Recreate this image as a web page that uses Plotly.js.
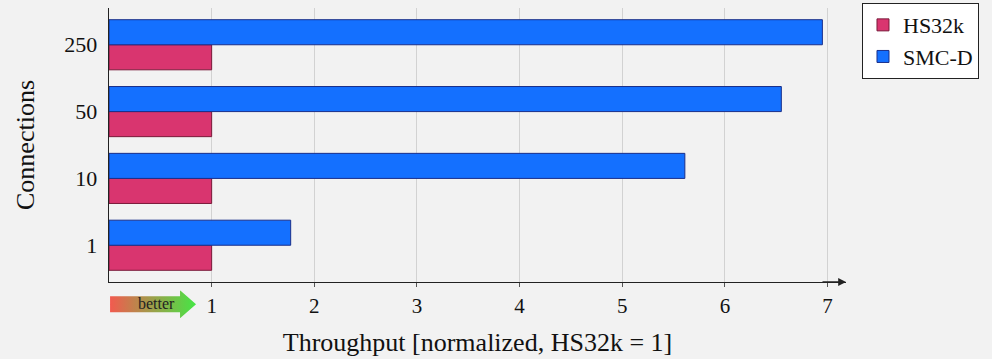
<!DOCTYPE html>
<html><head><meta charset="utf-8">
<script src="https://cdn.plot.ly/plotly-3.0.1.min.js"></script>
<style>html,body{margin:0;padding:0;background:#f2f2f2;}</style>
</head><body>
<div id="chart" style="width:992px;height:359px;"></div>
<script>
const categories = ["1", "10", "50", "250"];
const hs32k = [1.0, 1.0, 1.0, 1.0];
const smcd = [1.77, 5.61, 6.55, 6.95];
const xTicks = [1, 2, 3, 4, 5, 6, 7];

const font = "Liberation Serif, DejaVu Serif, serif";
const svg = '<svg xmlns="http://www.w3.org/2000/svg" width="86" height="28" viewBox="0 0 86 28">' +
  '<defs><linearGradient id="g" x1="0" x2="1" y1="0" y2="0"><stop offset="0" stop-color="#f25a4f"/><stop offset="1" stop-color="#45e645"/></linearGradient></defs>' +
  '<polygon points="0,6 70,6 70,0 86,14 70,28 70,22 0,22" fill="url(#g)"/></svg>';
const img = 'data:image/svg+xml;base64,' + btoa(svg);

const data = [
  {type: 'bar', orientation: 'h', name: 'HS32k', y: categories, x: hs32k,
   marker: {color: '#d9356f', line: {color: '#7a1a3a', width: 1}}},
  {type: 'bar', orientation: 'h', name: 'SMC-D', y: categories, x: smcd,
   marker: {color: '#1470ff', line: {color: '#1a2f8a', width: 1}}}
];

const layout = {
  width: 992, height: 359,
  margin: {l: 109, r: 146, t: 8, b: 77, autoexpand: false},
  paper_bgcolor: '#f2f2f2', plot_bgcolor: '#f2f2f2',
  barmode: 'group', bargap: 0.25, bargroupgap: 0,
  font: {family: font, size: 21, color: '#111'},
  xaxis: {range: [0, 7.18], tickvals: xTicks, ticktext: xTicks.map(String),
    showgrid: true, gridcolor: '#d2d2d2', gridwidth: 1, zeroline: false,
    showline: true, linecolor: '#222', linewidth: 1.3,
    ticks: 'outside', ticklen: 4, tickcolor: '#555', automargin: false,
    tickfont: {family: font, size: 21},
    title: {text: 'Throughput [normalized, HS32k = 1]', font: {family: font, size: 26}, standoff: 16}},
  yaxis: {type: 'category', range: [-0.55, 3.55], showgrid: false, zeroline: false,
    showline: true, linecolor: '#222', linewidth: 1.3, ticks: '', automargin: false,
    tickfont: {family: font, size: 22}, ticklabelstandoff: 6,
    title: {text: 'Connections', font: {family: font, size: 26}, standoff: 22}},
  legend: {x: 1.0217, y: 1.018, xanchor: 'left', yanchor: 'top',
    bgcolor: '#ffffff', bordercolor: '#222', borderwidth: 1,
    font: {family: font, size: 22}, tracegroupgap: 0, itemwidth: 30},
  annotations: [
    {xref: 'x', yref: 'paper', x: 7.18, y: 0, ax: -25, ay: 0, axref: 'pixel', ayref: 'pixel',
     showarrow: true, arrowhead: 2, arrowsize: 1.2, arrowwidth: 1.3, arrowcolor: '#222', text: ''},
    {xref: 'paper', yref: 'paper', x: 0.065, y: -0.08, xanchor: 'center', yanchor: 'middle',
     text: 'better', showarrow: false, font: {family: font, size: 16, color: '#222'}}
  ],
  images: [
    {source: img, xref: 'paper', yref: 'paper', x: 0.0014, y: -0.03, sizex: 86/737, sizey: 28/274,
     xanchor: 'left', yanchor: 'top', sizing: 'stretch', layer: 'above'}
  ]
};

Plotly.newPlot('chart', data, layout, {displayModeBar: false, staticPlot: true});
</script>
</body></html>
